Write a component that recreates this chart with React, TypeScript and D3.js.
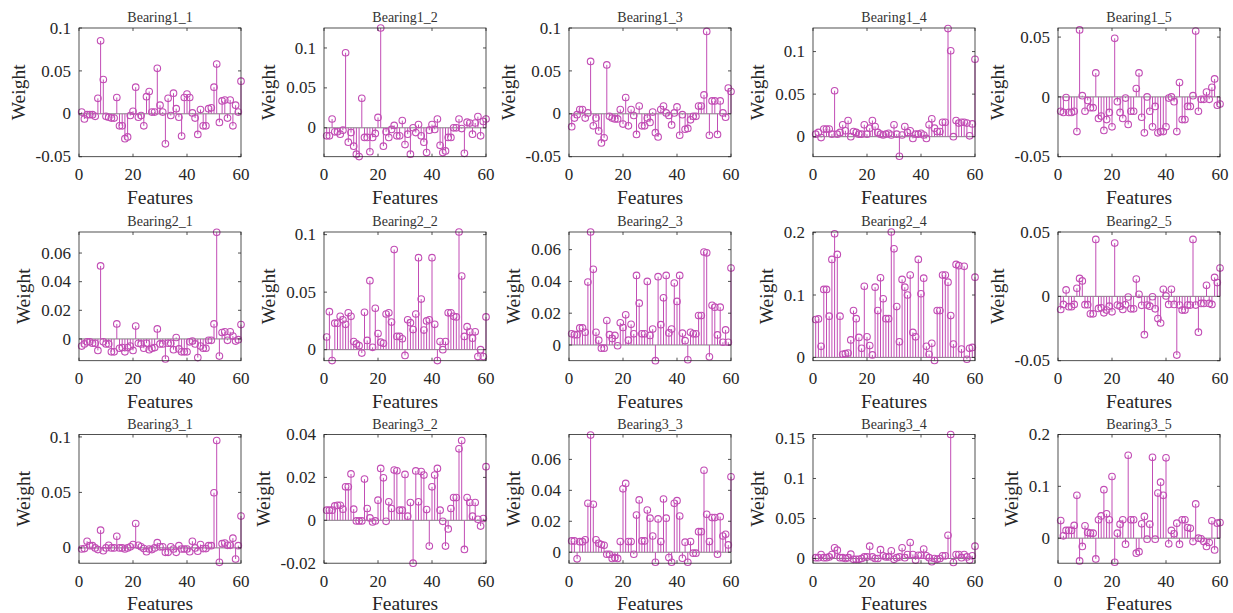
import React from "react";
import * as d3 from "d3";

const titles = [
  "Bearing1_1", "Bearing1_2", "Bearing1_3", "Bearing1_4", "Bearing1_5",
  "Bearing2_1", "Bearing2_2", "Bearing2_3", "Bearing2_4", "Bearing2_5",
  "Bearing3_1", "Bearing3_2", "Bearing3_3", "Bearing3_4", "Bearing3_5",
];

const features = d3.range(1, 61);
const xTicks = [0, 20, 40, 60];

const b11 = [0.002,-0.006,-0.001,-0.001,-0.001,-0.003,0.018,0.085,0.040,-0.003,-0.004,-0.005,-0.005,0.019,-0.014,-0.014,-0.029,-0.027,-0.002,0.003,0.031,-0.004,-0.002,-0.014,0.020,0.026,0.002,0.002,0.053,0.010,0.002,-0.035,0.018,-0.002,0.024,0.006,-0.004,-0.026,0.019,0.023,0.019,0.001,-0.005,-0.024,0.005,-0.014,-0.014,0.006,0.007,0.031,0.058,-0.010,0.015,0.016,-0.005,0.016,-0.014,0.010,0.002,0.038];
const b12 = [-0.010,-0.010,0.011,-0.005,-0.005,-0.008,-0.003,0.094,-0.018,-0.006,-0.023,-0.033,-0.036,0.037,-0.012,-0.012,-0.030,-0.012,-0.007,0.013,0.125,-0.023,-0.005,-0.012,-0.002,0.003,-0.010,-0.010,0.009,-0.021,-0.008,-0.033,0.000,-0.006,0.004,-0.010,-0.018,-0.031,-0.003,0.004,-0.002,0.011,-0.022,-0.031,-0.029,-0.012,-0.012,0.000,0.000,0.011,-0.001,-0.032,0.007,0.006,-0.008,0.006,0.014,-0.010,0.008,0.011];
const b13 = [-0.015,-0.005,-0.001,0.005,0.005,-0.005,0.001,0.061,-0.014,-0.005,-0.020,-0.034,-0.028,0.057,-0.003,-0.005,-0.006,-0.006,0.005,-0.012,0.019,-0.014,0.005,-0.002,-0.024,0.009,-0.014,-0.014,-0.005,-0.010,0.002,-0.022,-0.027,0.005,0.009,0.001,-0.002,-0.013,0.001,0.008,-0.025,-0.001,-0.018,-0.017,-0.007,-0.003,-0.003,0.009,0.009,0.022,0.096,-0.025,0.015,0.015,-0.024,0.015,0.001,-0.004,0.030,0.026];
const b14 = [0.003,0.005,-0.001,0.009,0.009,0.009,0.003,0.054,0.003,0.005,0.014,0.007,0.019,0.000,0.006,0.005,0.003,0.003,0.014,0.003,0.010,0.019,0.012,0.005,0.003,0.002,0.003,0.004,0.002,0.014,0.003,-0.023,0.002,0.012,0.005,0.007,-0.002,0.003,0.003,0.004,0.002,-0.002,0.014,0.021,0.010,0.006,0.006,0.017,0.017,0.127,0.101,0.000,0.019,0.016,0.017,0.017,0.016,0.001,0.015,0.091];
const b15 = [-0.012,-0.013,-0.0005,-0.013,-0.013,-0.012,-0.029,0.056,0.001,-0.012,-0.003,-0.009,-0.009,0.020,-0.018,-0.016,-0.028,-0.019,-0.013,-0.025,0.049,-0.004,-0.013,-0.018,-0.001,-0.023,-0.012,-0.012,0.007,0.020,-0.017,-0.030,0.000,-0.012,-0.025,-0.008,-0.030,-0.029,-0.029,-0.025,-0.001,0.000,-0.004,-0.029,0.012,-0.019,-0.019,-0.008,-0.008,0.001,0.055,-0.012,-0.002,-0.002,0.004,-0.002,0.008,0.015,-0.007,-0.006];
const b21 = [-0.005,-0.0035,-0.002,-0.002,-0.003,-0.003,-0.008,0.051,-0.002,-0.0035,-0.0035,-0.009,-0.009,0.0105,-0.0065,-0.006,-0.009,-0.006,-0.005,-0.008,0.009,-0.003,-0.0035,-0.0065,-0.003,-0.0075,-0.0065,-0.006,0.007,-0.0035,-0.0035,-0.014,-0.003,-0.003,-0.0075,0.001,-0.007,-0.009,-0.009,-0.009,-0.002,-0.0015,-0.0035,-0.013,-0.005,-0.0065,-0.0065,-0.001,-0.001,0.0105,0.0745,-0.012,0.0045,0.005,-0.001,0.005,0.002,-0.0015,-0.0005,0.010];
const b22 = [0.011,0.033,-0.0095,0.023,0.023,0.029,0.026,0.022,0.032,0.029,0.007,0.005,0.0035,-0.003,0.0325,0.008,0.060,0.002,0.036,0.014,0.0065,0.0055,0.031,0.032,0.024,0.087,0.0115,0.0115,0.0095,-0.005,0.026,0.0235,0.0175,0.031,0.080,0.044,0.017,0.025,0.026,0.080,0.022,-0.0095,0.007,0.000,0.007,0.032,0.032,0.029,0.0285,0.1023,0.064,0.0115,0.020,0.0155,0.010,0.0155,-0.006,0.000,-0.006,0.0285];
const b23 = [0.007,0.0065,0.0065,0.0107,0.0107,0.008,0.0396,0.0711,0.0476,0.008,0.003,-0.002,-0.002,0.0154,0.0065,0.004,0.006,-0.0005,0.014,0.011,0.019,0.003,0.013,0.007,0.0438,0.0263,0.007,0.007,0.040,0.006,0.010,-0.0099,0.043,0.0128,0.0297,0.0438,0.0076,0.010,0.039,0.0274,0.0438,0.0074,0.0027,-0.0093,0.008,0.007,0.007,0.0185,0.0185,0.0585,0.058,-0.0074,0.025,0.0238,0.0063,0.0238,0.0017,0.0095,0.0017,0.0484];
const b24 = [0.0606,0.0616,0.0177,0.109,0.109,0.066,0.157,0.198,0.165,0.066,0.005,0.006,0.007,0.028,0.075,0.062,0.032,0.0145,0.114,0.033,0.019,0.004,0.1125,0.075,0.1276,0.094,0.062,0.062,0.201,0.174,0.0815,0.025,0.125,0.1125,0.100,0.132,0.040,0.033,0.157,0.102,0.127,0.0177,0.005,0.0225,-0.005,0.075,0.075,0.132,0.132,0.1206,0.067,0.0214,0.149,0.147,0.0134,0.146,-0.003,0.0145,0.016,0.1286];
const b25 = [-0.0102,-0.0063,0.005,-0.008,-0.008,-0.0063,0.0063,0.0139,0.012,-0.0065,-0.0065,-0.0136,-0.0136,0.0442,-0.0094,-0.0089,-0.0128,-0.0107,-0.0076,-0.012,0.0414,-0.0068,-0.0076,-0.0102,-0.0065,-0.0005,-0.0097,-0.0097,0.0134,0.0016,-0.007,-0.0298,-0.0068,-0.0076,-0.0003,-0.0097,-0.0173,-0.0207,0.0055,0.0003,-0.0063,0.0055,-0.0063,-0.0456,-0.0068,-0.0107,-0.0107,-0.0068,-0.0068,0.0442,-0.0068,-0.0278,-0.0055,-0.0055,0.0086,-0.0055,-0.0063,0.0147,0.0107,0.022];
const b31 = [-0.001,-0.0006,0.006,0.002,0.002,0,-0.0015,0.016,-0.0026,0,0.0023,0,0,0.0105,0,0,-0.001,0,0.001,0.003,0.022,0.0023,0.001,-0.0006,-0.0035,-0.001,-0.0015,0,0.0047,0.001,0.001,-0.004,-0.004,0.001,-0.001,-0.004,0.002,-0.001,-0.001,-0.001,-0.0035,0.006,0,-0.003,0.003,-0.0006,-0.0006,0.002,0.002,0.0497,0.0968,-0.013,0.0038,0.0044,0.0023,0.0023,0.0088,-0.010,0.002,0.0287];
const b32 = [0.0047,0.0047,0.0047,0.0067,0.007,0.007,0.0052,0.0156,0.0156,0.0216,0.0052,-0.0003,-0.0003,-0.0003,0.0192,0.0055,0.0011,-0.0008,-0.0003,0.0094,0.0242,0.0198,-0.0005,0.0086,0.0055,0.0234,0.0231,0.0047,0.0047,0.0214,0.0019,0.0083,-0.02,0.023,0.0086,0.0227,0.0211,0.005,-0.012,0.0156,0.0211,0.0242,0.0047,-0.0005,-0.012,-0.004,0.0055,0.0106,0.0106,0.0333,0.0372,-0.0136,0.0106,0.0083,0.0019,0.0083,0.0005,-0.0027,0.0008,0.025];
const b33 = [0.0073,0.0073,-0.0043,0.0068,0.0068,0.008,0.0316,0.0757,0.031,0.008,0.0058,0.005,0.0045,-0.0013,-0.0013,-0.004,-0.0035,-0.004,0.0069,0.041,0.0445,0.0069,0.0069,-0.0013,0.024,0.0338,0.0073,0.0073,0.0273,0.022,0.0105,-0.0065,0.0215,0.0069,0.0344,0.022,-0.0034,-0.0065,0.0316,0.0333,0.0234,-0.0039,0.0065,-0.0065,0.0069,-0.0006,-0.0006,0.0133,0.0133,0.053,0.0245,0.0069,0.0224,0.0224,-0.0013,0.023,0.0105,0.0116,0.0047,0.0488];
const b34 = [0.001,0.001,0.005,0.001,0.001,0.002,0.005,0.0133,0.0104,0.001,0.001,0,0.001,0.0054,-0.001,-0.001,-0.001,0,0.002,0.002,0.0154,0.002,0,0,0.011,0.0033,0.002,0.002,0.0096,-0.001,0.001,0.002,0.0133,0.001,0.005,0.02,0.005,-0.002,0.004,0.004,0.0117,0.0033,0.001,-0.004,0,-0.001,0,0.0033,0.0033,0.029,0.155,-0.005,0.005,0.005,0.001,0.005,0.002,-0.002,0.0033,0.0154];
const b35 = [0.034,0.0045,0.015,0.015,0.015,0.0245,0.0826,-0.044,-0.016,0.024,0.011,0.0097,0.0097,-0.04,0.0355,0.043,0.0935,0.047,0.0355,0.119,-0.0465,0.0097,0.027,0.0355,-0.0116,0.16,0.0355,0.0355,-0.029,-0.026,0.0277,0.042,-0.002,0.027,0.156,-0.002,0.087,0.108,0.0826,0.155,-0.011,0.015,0.0084,0.029,-0.0116,0.0355,0.0355,0.0206,0.019,-0.0065,0.066,0,-0.0013,-0.0065,-0.016,-0.0084,0.0335,-0.0226,0.029,0.030];

const series = [b11, b12, b13, b14, b15, b21, b22, b23, b24, b25, b31, b32, b33, b34, b35];

const yDomains: [number, number][] = [
  [-0.05, 0.1], [-0.0362, 0.125], [-0.05, 0.1], [-0.0235, 0.1277], [-0.05, 0.0576],
  [-0.0152, 0.0747], [-0.0096, 0.1023], [-0.0099, 0.0711], [-0.0053, 0.201], [-0.05, 0.05],
  [-0.0138, 0.1022], [-0.02, 0.04], [-0.0071, 0.0761], [-0.0059, 0.155], [-0.0483, 0.2],
];

const yTicks: number[][] = [
  [-0.05, 0, 0.05, 0.1], [0, 0.05, 0.1], [-0.05, 0, 0.05, 0.1], [0, 0.05, 0.1], [-0.05, 0, 0.05],
  [0, 0.02, 0.04, 0.06], [0, 0.05, 0.1], [0, 0.02, 0.04, 0.06], [0, 0.1, 0.2], [-0.05, 0, 0.05],
  [0, 0.05, 0.1], [-0.02, 0, 0.02, 0.04], [0, 0.02, 0.04, 0.06], [0, 0.05, 0.1, 0.15], [0, 0.1, 0.2],
];

const COL_LEFT = [79, 324, 569, 813, 1058];
const ROW_TOP = [28, 232, 434.5];
const PW = 162;
const PH = 128.7;
const STEM = "#C24DB5";
const AX = "#262626";
const FONT = "'Liberation Serif', 'Times New Roman', serif";
const TICK_FS = 17;

function textWidth(s: string, fs: number) {
  let w = 0;
  for (const c of s) {
    if (c === ".") w += 0.25;
    else if (c === "-") w += 0.333;
    else w += 0.5;
  }
  return w * fs;
}

function Panel({ idx }: { idx: number }) {
  const col = idx % 5;
  const row = Math.floor(idx / 5);
  const left = COL_LEFT[col];
  const top = ROW_TOP[row];
  const x = d3.scaleLinear().domain([0, 60]).range([left, left + PW]);
  const y = d3.scaleLinear().domain(yDomains[idx]).range([top + PH, top]);
  const data = series[idx];
  const labels = yTicks[idx].map((t) => String(t));
  const maxW = Math.max(...labels.map((l) => textWidth(l, TICK_FS)));
  const labelLeft = left - 8 - maxW;
  const y0 = y(0);
  const tl = 3;
  return (
    <g>
      <text x={left + PW / 2} y={top - 6} textAnchor="middle" fontSize={14} fill="#333" fontFamily={FONT}>
        {titles[idx]}
      </text>
      {/* baseline */}
      <line x1={x(0)} x2={x(60)} y1={y0} y2={y0} stroke="#808080" strokeWidth={1} />
      {/* stems */}
      {data.map((v, i) => (
        <line key={"s" + i} x1={x(features[i])} x2={x(features[i])} y1={y0} y2={y(v)} stroke={STEM} strokeWidth={1} />
      ))}
      {data.map((v, i) => (
        <circle key={"c" + i} cx={x(features[i])} cy={y(v)} r={3.3} fill="none" stroke={STEM} strokeWidth={1.1} />
      ))}
      {/* box */}
      <rect x={left} y={top} width={PW} height={PH} fill="none" stroke={AX} strokeWidth={0.8} />
      {/* x ticks */}
      {xTicks.map((t) => (
        <g key={"xt" + t}>
          <line x1={x(t)} x2={x(t)} y1={top + PH} y2={top + PH - tl} stroke={AX} strokeWidth={0.8} />
          <line x1={x(t)} x2={x(t)} y1={top} y2={top + tl} stroke={AX} strokeWidth={0.8} />
          <text x={x(t)} y={top + PH + 23.5} textAnchor="middle" fontSize={TICK_FS} fill={AX} fontFamily={FONT}>
            {t}
          </text>
        </g>
      ))}
      {/* y ticks */}
      {yTicks[idx].map((t, k) => (
        <g key={"yt" + k}>
          <line x1={left} x2={left + tl} y1={y(t)} y2={y(t)} stroke={AX} strokeWidth={0.8} />
          <line x1={left + PW} x2={left + PW - tl} y1={y(t)} y2={y(t)} stroke={AX} strokeWidth={0.8} />
          <text x={left - 8} y={y(t)} dy="0.33em" textAnchor="end" fontSize={TICK_FS} fill={AX} fontFamily={FONT}>
            {labels[k]}
          </text>
        </g>
      ))}
      <text x={left + PW / 2} y={top + PH + 47} textAnchor="middle" fontSize={19.5} fill={AX} fontFamily={FONT}>
        Features
      </text>
      <text
        transform={`translate(${labelLeft - 11},${top + PH / 2}) rotate(-90)`}
        textAnchor="middle"
        fontSize={19.5}
        fill={AX}
        fontFamily={FONT}
      >
        Weight
      </text>
    </g>
  );
}

export default function App() {
  return (
    <svg
      width={1233}
      height={613}
      viewBox="0 0 1233 613"
      style={{ position: "absolute", left: 0, top: 0, background: "#fff" }}
    >
      <rect x={0} y={0} width={1233} height={613} fill="#fff" />
      {titles.map((_, i) => (
        <Panel key={i} idx={i} />
      ))}
    </svg>
  );
}
